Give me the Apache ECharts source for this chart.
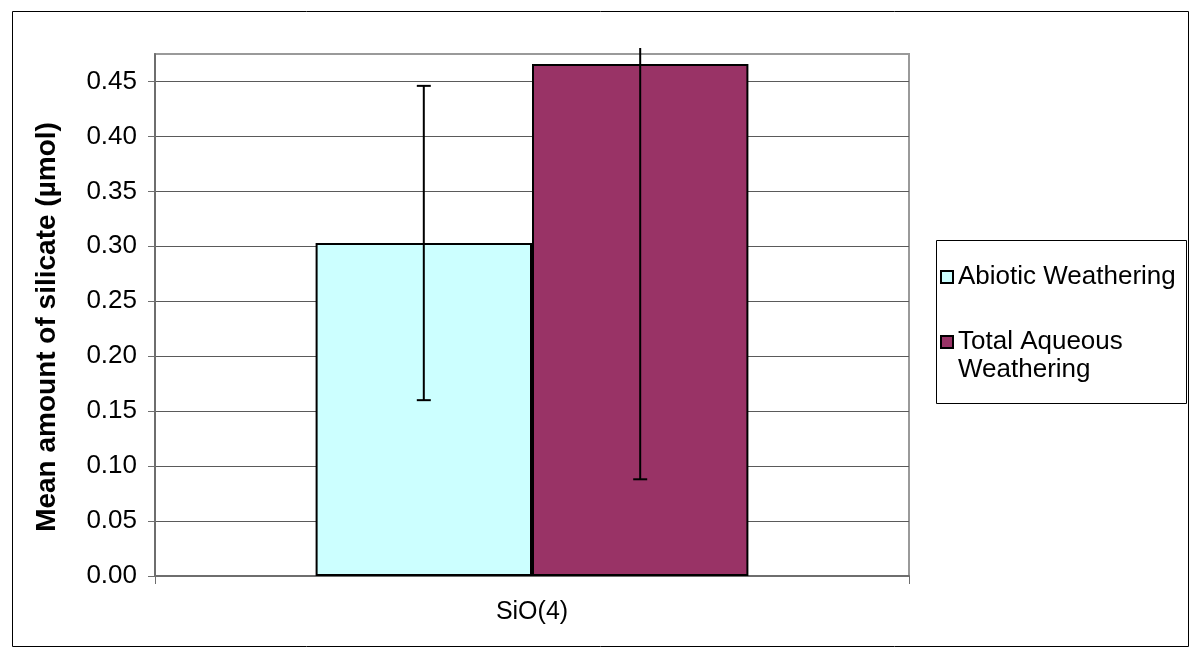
<!DOCTYPE html>
<html>
<head>
<meta charset="utf-8">
<script src="https://cdn.jsdelivr.net/npm/echarts@6/dist/echarts.min.js"></script>
<style>
  html, body { margin: 0; padding: 0; background: #fff; }
  #chart { width: 1196px; height: 654px; }
</style>
</head>
<body>
<div id="chart"></div>
<script>
// Mean silicate released, with error bars (± one deviation)
const categories = ['SiO(4)'];
const seriesNames = ['Abiotic Weathering', 'Total Aqueous Weathering'];
const abioticMean = [0.303];
const abioticErr = [0.143];
const totalMean = [0.466];
const totalErr = [0.378];
const yTickValues = [0, 0.05, 0.10, 0.15, 0.20, 0.25, 0.30, 0.35, 0.40, 0.45];
const yMax = 0.475;

const FONT = '"Liberation Sans", Arial, sans-serif';
const CAT_GAP = 0.426;           // fraction of the band left empty
const colors = ['#CCFFFF', '#993366'];

const chart = echarts.init(document.getElementById('chart'), null, { renderer: 'canvas' });

// Error bars drawn on top of the two bars; slot 0/1 picks the bar.
function errorSeries(means, errs, slot) {
  return {
    type: 'custom',
    z: 10,
    silent: true,
    data: means.map((m, i) => [i, m, errs[i]]),
    renderItem: function (params, api) {
      const idx = api.value(0);
      const mean = api.value(1);
      const err = api.value(2);
      const band = api.size([1, 0])[0];
      const barW = band * (1 - CAT_GAP) / 2;
      const center = api.coord([idx, 0])[0];
      const x = center + (slot === 0 ? -barW / 2 : barW / 2);
      const cs = params.coordSys;
      const topLimit = cs.y - 6;
      let yHi = api.coord([idx, mean + err])[1];
      const yLo = api.coord([idx, Math.max(0, mean - err)])[1];
      const hiClipped = yHi < topLimit;
      if (hiClipped) yHi = topLimit;
      const cap = 7;
      const style = { stroke: '#000', lineWidth: 2 };
      const children = [
        { type: 'line', shape: { x1: x, y1: yHi, x2: x, y2: yLo }, style },
        { type: 'line', shape: { x1: x - cap, y1: yLo, x2: x + cap, y2: yLo }, style }
      ];
      if (!hiClipped) {
        children.push({ type: 'line', shape: { x1: x - cap, y1: yHi, x2: x + cap, y2: yHi }, style });
      }
      return { type: 'group', children };
    }
  };
}

const option = {
  animation: false,
  backgroundColor: '#fff',
  textStyle: { fontFamily: FONT },
  grid: {
    left: 155, right: 287, top: 54, bottom: 78,
    show: true, borderColor: '#9a9a9a', borderWidth: 2, backgroundColor: '#fff'
  },
  legend: {
    orient: 'vertical',
    left: 940, top: 263,
    padding: 0,
    itemWidth: 12, itemHeight: 12,
    itemGap: 9,
    icon: 'rect',
    data: seriesNames,
    formatter: function (name) {
      // blank first line keeps the swatch level with "Total Aqueous"
      return name === 'Total Aqueous Weathering' ? '\nTotal Aqueous\nWeathering' : name;
    },
    textStyle: { fontFamily: FONT, fontSize: 26, color: '#000', lineHeight: 28 }
  },
  xAxis: {
    type: 'category',
    data: categories,
    axisLine: { lineStyle: { color: '#6e6e6e', width: 2 } },
    axisTick: { show: true, length: 8, lineStyle: { color: '#6e6e6e', width: 1 } },
    axisLabel: { fontFamily: FONT, fontSize: 25, color: '#000', margin: 24 }
  },
  yAxis: {
    type: 'value',
    min: 0, max: yMax,
    name: 'Mean amount of silicate (µmol)',
    nameLocation: 'middle',
    nameGap: 94,
    nameTextStyle: { fontFamily: FONT, fontSize: 28, fontWeight: 'bold', color: '#000', padding: [0, 24, 0, 0] },
    axisLine: { show: true, lineStyle: { color: '#6e6e6e', width: 2 } },
    axisTick: { show: true, length: 7, customValues: yTickValues, lineStyle: { color: '#6e6e6e', width: 1 } },
    axisLabel: {
      fontFamily: FONT, fontSize: 26, color: '#000', margin: 18,
      customValues: yTickValues,
      formatter: v => v.toFixed(2)
    },
    splitLine: { show: true, lineStyle: { color: '#5a5a5a', width: 1 } }
  },
  series: [
    {
      name: seriesNames[0], type: 'bar', data: abioticMean,
      barGap: '0%', barCategoryGap: (CAT_GAP * 100) + '%',
      itemStyle: { color: colors[0], borderColor: '#000', borderWidth: 2 }
    },
    {
      name: seriesNames[1], type: 'bar', data: totalMean,
      barGap: '0%', barCategoryGap: (CAT_GAP * 100) + '%',
      itemStyle: { color: colors[1], borderColor: '#000', borderWidth: 2 }
    },
    errorSeries(abioticMean, abioticErr, 0),
    errorSeries(totalMean, totalErr, 1)
  ],
  graphic: [
    { type: 'rect', left: 10, top: 9, z: -10, silent: true,
      shape: { width: 1176, height: 635 },
      style: { fill: 'none', stroke: '#000', lineWidth: 1 } },
    { type: 'rect', left: 936, top: 240, z: -5, silent: true,
      shape: { width: 250, height: 163 },
      style: { fill: '#fff', stroke: '#000', lineWidth: 1 } }
  ]
};

chart.setOption(option);
</script>
</body>
</html>
